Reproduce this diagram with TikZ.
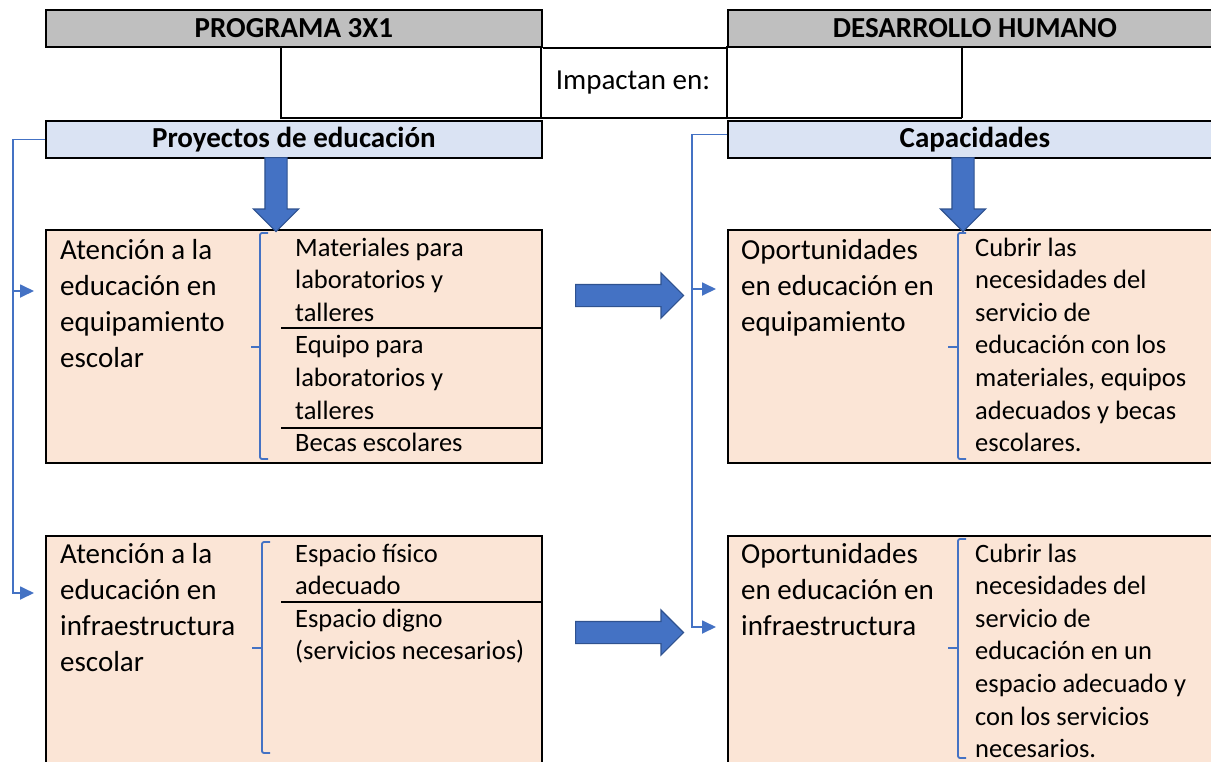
\documentclass[tikz,border=0pt]{standalone}
\usepackage{fontspec}
\setmainfont{Carlito}
\usetikzlibrary{shapes.arrows, arrows.meta, positioning, calc}

\definecolor{hdrgray}{HTML}{BFBFBF}
\definecolor{hdrblue}{HTML}{DAE3F3}
\definecolor{peach}{HTML}{FBE5D6}
\definecolor{arrblue}{HTML}{4472C4}
\definecolor{arrdark}{HTML}{2F528F}

\begin{document}
\begin{tikzpicture}[
    x=1pt, y=-1pt,
    grid/.style={black, line width=1.8pt},
    hdr/.style={rectangle, draw, line width=1.8pt, fill=hdrgray, minimum width=496pt, minimum height=37pt, anchor=north west, inner sep=0pt, font=\bfseries\fontsize{29}{35}\selectfont},
    sub/.style={hdr, fill=hdrblue},
    box/.style={rectangle, draw, line width=2pt, fill=peach, minimum width=496pt, anchor=north west, inner sep=0pt},
    bigtxt/.style={anchor=base west, inner sep=0pt, font=\fontsize{29}{36}\selectfont},
    smalltxt/.style={anchor=base west, inner sep=0pt, font=\fontsize{26.5}{32.6}\selectfont},
    bigarrow/.style={single arrow, draw=arrdark, fill=arrblue, line width=1.2pt, inner sep=10.5pt, minimum width=44pt, single arrow head extend=11.5pt, single arrow tip angle=90, anchor=tail},
    link/.style={arrblue, line width=1.8pt, -{Triangle[length=14pt, width=13pt]}},
    brace/.style={arrblue, line width=1.8pt, rounded corners=2pt}
]
\useasboundingbox (0,0) rectangle (1211,761);
\clip (0,0) rectangle (1211,761);

% table head
\node[hdr] (prog) at (45,9) {PROGRAMA 3X1};
\node[hdr, minimum width=494pt] (desa) at (727,9) {DESARROLLO HUMANO};
\draw[grid] (prog.south east) -- (desa.south west);
\draw[grid] (281,46) -- (281,118) -- (962,118);
\draw[grid] (541,46) -- (541,118);
\draw[grid] (727,46) -- (727,118);
\draw[grid] (962,46) -- (962,118);
\node[font=\fontsize{29}{35}\selectfont, inner sep=0pt] (impac) at (633,83) {Impactan en:};

\node[sub] (proj) at (45,120) {Proyectos de educación};
\node[sub, minimum width=494pt] (capac) at (727,120) {Capacidades};

% boxes
\node[box, minimum height=233pt] (eqL) at (45,229) {};
\node[box, minimum height=240pt] (infL) at (45,535) {};
\node[box, minimum width=494pt, minimum height=233pt] (eqR) at (727,229) {};
\node[box, minimum width=494pt, minimum height=240pt] (infR) at (727,535) {};

\draw[grid] (281,328) -- (eqL.east |- 0,328);
\draw[grid] (281,428) -- (eqL.east |- 0,428);
\draw[grid] (281,602) -- (infL.east |- 0,602);

% texts
\node[bigtxt] (tEqL) at (60,259) {\parbox[t]{200pt}{\raggedright Atención a la\\educación en\\equipamiento\\escolar}};
\node[smalltxt] (tMat) at (295,256) {\parbox[t]{240pt}{\raggedright Materiales para\\laboratorios y\\talleres\\Equipo para\\laboratorios y\\talleres\\Becas escolares}};
\node[bigtxt] (tInfL) at (60,563) {\parbox[t]{200pt}{\raggedright Atención a la\\educación en\\infraestructura\\escolar}};
\node[smalltxt] (tEsp) at (295,562) {\parbox[t]{240pt}{\raggedright Espacio físico\\adecuado\\Espacio digno\\(servicios necesarios)}};

\node[bigtxt] (tEqR) at (741,259) {\parbox[t]{210pt}{\raggedright Oportunidades\\en educación en\\equipamiento}};
\node[smalltxt] (tCub1) at (975,256) {\parbox[t]{240pt}{\raggedright Cubrir las\\necesidades del\\servicio de\\educación con los\\materiales, equipos\\adecuados y becas\\escolares.}};
\node[bigtxt] (tInfR) at (741,563) {\parbox[t]{210pt}{\raggedright Oportunidades\\en educación en\\infraestructura}};
\node[smalltxt] (tCub2) at (975,562) {\parbox[t]{240pt}{\raggedright Cubrir las\\necesidades del\\servicio de\\educación en un\\espacio adecuado y\\con los servicios\\necesarios.}};

% braces
\draw[brace] (268,233) -- (260,233) -- (260,459) -- (268,459);
\draw[brace] (260,347) -- (251,347);
\draw[brace] (270,542) -- (262,542) -- (262,753) -- (270,753);
\draw[brace] (262,648) -- (252,648);
\draw[brace] (966,233) -- (958,233) -- (958,459) -- (966,459);
\draw[brace] (958,347) -- (948,347);
\draw[brace] (966,539) -- (958,539) -- (958,758) -- (966,758);
\draw[brace] (958,648) -- (948,648);

% block arrows
\node[bigarrow, minimum height=74pt, shape border rotate=270] (aProj) at (276,157) {};
\node[bigarrow, minimum height=74pt, shape border rotate=270] (aCapac) at (963,157) {};
\node[bigarrow, minimum height=108pt] (aEq) at (575,295.5) {};
\node[bigarrow, minimum height=108pt] (aInf) at (575,632.5) {};

% links
\coordinate (spineL) at (13,0);
\coordinate (spineR) at (692,0);
\coordinate (eqInL) at (34,291);
\coordinate (infInL) at (34,593);
\coordinate (eqInR) at (716,289);
\coordinate (infInR) at (716,627);
\draw[link] (proj.west) -| (spineL |- infInL) -- (infInL);
\draw[link] (spineL |- eqInL) -- (eqInL);
\draw[link] ([yshift=5pt]capac.west) -| (spineR |- infInR) -- (infInR);
\draw[link] (spineR |- eqInR) -- (eqInR);
\end{tikzpicture}
\end{document}
